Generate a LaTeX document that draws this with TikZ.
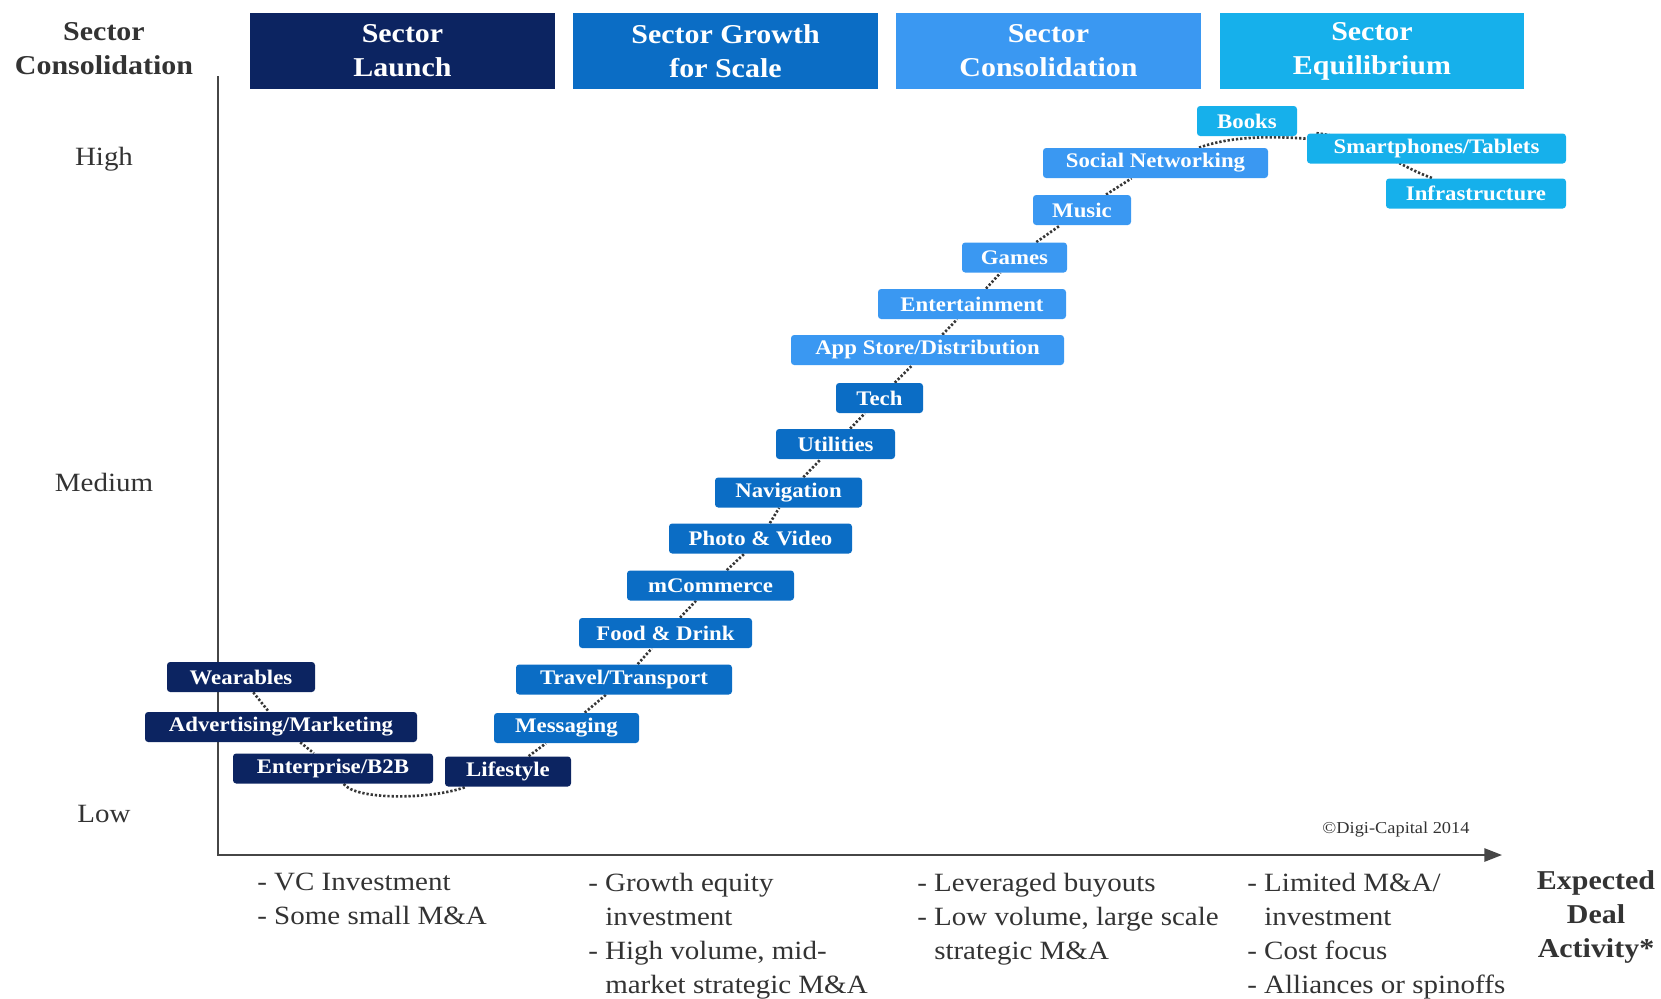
\documentclass[tikz,border=0pt]{standalone}
\usepackage{fontspec}
\setmainfont{Liberation Serif}[FakeStretch=1.1]
\usetikzlibrary{arrows.meta,backgrounds}
\definecolor{cnavy}{RGB}{12,36,97}
\definecolor{cgrow}{RGB}{11,109,197}
\definecolor{ccons}{RGB}{58,152,242}
\definecolor{cequi}{RGB}{22,176,235}
\definecolor{ctext}{RGB}{51,51,51}
\definecolor{caxis}{RGB}{70,70,70}
\definecolor{cdot}{RGB}{55,55,55}
\begin{document}
\begin{tikzpicture}[x=0.02cm,y=-0.02cm,
 hdr/.style={minimum width=6.1cm, minimum height=1.52cm, inner sep=0pt, align=center, text=white, font=\fontsize{15.5}{19.3}\selectfont\bfseries},
 sec/.style={rounded corners=1.8pt, minimum height=0.6cm, inner sep=0pt, text=white, font=\fontsize{11.8}{13}\selectfont\bfseries},
 bw/.style={minimum width=#1*0.02cm},
 lbl/.style={text=ctext, font=\fontsize{15}{19.3}\selectfont, inner sep=0pt},
 blbl/.style={text=ctext, align=center, font=\fontsize{15.5}{19.3}\selectfont\bfseries, inner sep=0pt},
 note/.style={text=ctext, align=left, anchor=north west, inner sep=0pt, font=\fontsize{15}{19.3}\selectfont},
 curve/.style={cdot, line width=1.5pt, dash pattern=on 1.3pt off 1.1pt},
 axis/.style={caxis, line width=1.1pt}]
\useasboundingbox (0,0) rectangle (1661,998);

% axes
\coordinate (ytop) at (218,76);
\coordinate (orig) at (218,855);
\coordinate (xend) at (1502,855);
\draw[axis,-{Triangle[length=10pt,width=7.5pt]}] (ytop) -- (orig) -- (xend);

% headers
\node[hdr, fill=cnavy] (h1) at (402.5,51) {Sector\\Launch};
\node[hdr, fill=cgrow] (h2) at (725.5,51) {Sector Growth\\for Scale};
\node[hdr, fill=ccons] (h3) at (1048.5,51) {Sector\\Consolidation};
\node[hdr, fill=cequi] (h4) at (1372,51) {Sector\\Equilibrium};

% axis labels
\node[blbl] (ylab) at (104,48.5) {Sector\\Consolidation};
\node[lbl] (high) at (104,159) {High};
\node[lbl] (med) at (104,482) {Medium};
\node[lbl] (low) at (104,814) {Low};
\node[blbl] (xlab) at (1596,917) {Expected\\Deal\\Activity*};
\node[text=ctext, inner sep=0pt, font=\fontsize{9.5}{11}\selectfont] (copy) at (1396,829) {©Digi-Capital 2014};

% sector nodes
\node[sec, fill=cequi, bw=100] (books) at (1247,121) {Books};
\node[sec, fill=cequi, bw=259] (smart) at (1436.5,148.5) {Smartphones/Tablets};
\node[sec, fill=cequi, bw=180] (infra) at (1476,193.5) {Infrastructure};
\node[sec, fill=ccons, bw=225] (social) at (1155.5,163) {Social Networking};
\node[sec, fill=ccons, bw=98] (music) at (1082,210) {Music};
\node[sec, fill=ccons, bw=105] (games) at (1014.5,257.5) {Games};
\node[sec, fill=ccons, bw=188] (entm) at (972,304) {Entertainment};
\node[sec, fill=ccons, bw=273] (app) at (927.5,350) {App Store/Distribution};
\node[sec, fill=cgrow, bw=87] (tech) at (879.5,398) {Tech};
\node[sec, fill=cgrow, bw=119] (util) at (835.5,444) {Utilities};
\node[sec, fill=cgrow, bw=147] (nav) at (788.5,492.5) {Navigation};
\node[sec, fill=cgrow, bw=183] (photo) at (760.5,538.5) {Photo \& Video};
\node[sec, fill=cgrow, bw=167] (mcom) at (710.5,585.5) {mCommerce};
\node[sec, fill=cgrow, bw=173] (food) at (665.5,633) {Food \& Drink};
\node[sec, fill=cgrow, bw=216] (travel) at (624,679.5) {Travel/Transport};
\node[sec, fill=cgrow, bw=145] (msg) at (566.5,728) {Messaging};
\node[sec, fill=cnavy, bw=126] (life) at (508,771.5) {Lifestyle};
\node[sec, fill=cnavy, bw=148] (wear) at (241,677) {Wearables};
\node[sec, fill=cnavy, bw=272] (adv) at (281,727) {Advertising/Marketing};
\node[sec, fill=cnavy, bw=200] (ent) at (333,768.5) {Enterprise/B2B};

% dotted S-curve
\begin{scope}[on background layer]
\draw[curve] (wear) -- (adv) -- (ent)
  .. controls (355,800) and (430,800) .. (life)
  -- (msg) -- (travel) -- (food) -- (mcom) -- (photo) -- (nav) -- (util)
  -- (tech) -- (app) -- (entm) -- (games) -- (music) -- (social)
  .. controls (1215,142) and (1245,134) .. (smart)
  .. controls (1370,140) and (1395,165) .. (infra);
\end{scope}

% bottom notes
\node[note] (n1) at (257,873) {- VC Investment\\- Some small M\&A};
\node[note] (n2) at (588,873) {- Growth equity\\\phantom{- }investment\\- High volume, mid-\\\phantom{- }market strategic M\&A};
\node[note] (n3) at (917,873) {- Leveraged buyouts\\- Low volume, large scale\\\phantom{- }strategic M\&A};
\node[note] (n4) at (1247,873) {- Limited M\&A/\\\phantom{- }investment\\- Cost focus\\- Alliances or spinoffs};
\end{tikzpicture}
\end{document}
